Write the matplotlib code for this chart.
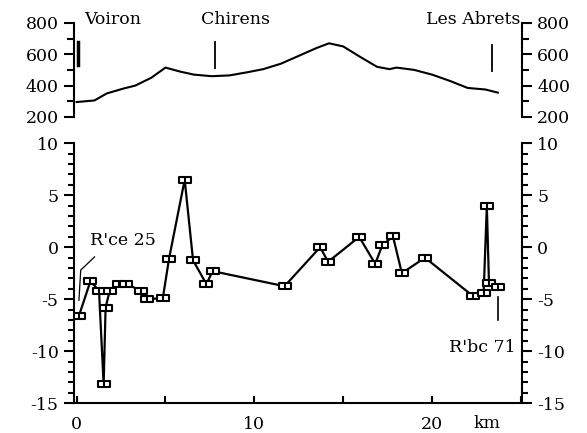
import matplotlib
matplotlib.use("Agg")
import matplotlib.pyplot as plt
from matplotlib.path import Path
from matplotlib.ticker import MultipleLocator

plt.rcParams['font.family'] = ['DejaVu Serif']
plt.rcParams['axes.unicode_minus'] = False

# elevation profile (km, m)
prof_km = [0, 1.0, 1.7, 2.6, 3.3, 4.2, 5.0, 5.8, 6.6, 7.6, 8.6, 9.6, 10.5, 11.5, 12.7, 13.5, 14.2, 15.0, 16.0, 16.9, 17.6, 18.0, 19.0, 20.0, 21.0, 22.0, 23.0, 23.7]
prof_m = [295, 305, 350, 380, 400, 450, 515, 490, 470, 460, 465, 485, 505, 540, 600, 640, 670, 650, 580, 520, 505, 515, 500, 470, 430, 385, 375, 355]

# measured values along the line
pts_km = [0.13, 0.78, 1.26, 1.52, 1.63, 1.86, 2.4, 2.75, 3.64, 3.95, 4.85, 5.2, 6.08, 6.55, 7.3, 7.65, 11.7, 13.7, 14.15, 15.9, 16.8, 17.2, 17.8, 18.3, 19.6, 22.3, 22.9, 23.08, 23.2, 23.7]
pts_val = [-6.6, -3.25, -4.2, -13.2, -5.8, -4.2, -3.5, -3.5, -4.2, -5.0, -4.9, -1.1, 6.5, -1.25, -3.55, -2.3, -3.75, 0.0, -1.4, 1.0, -1.6, 0.2, 1.05, -2.5, -1.0, -4.7, -4.4, 3.95, -3.4, -3.8]

elev_ticks = [200, 400, 600, 800]
val_ticks = [-15, -10, -5, 0, 5, 10]
km_ticks = [0, 10, 20]

towns = ['Voiron', 'Chirens', 'Les Abrets']

fig = plt.figure(figsize=(5.87, 4.33), dpi=100)
xlim = (-0.15, 25.05)

# ---- top panel: elevation
ax1 = fig.add_axes([0.126, 0.730, 0.763, 0.217])
ax1.plot(prof_km, prof_m, color='black', lw=1.5)
ax1.set_xlim(xlim)
ax1.set_ylim(200, 800)
for s in ['top', 'bottom']:
    ax1.spines[s].set_visible(False)
for s in ['left', 'right']:
    ax1.spines[s].set_linewidth(1.5)
ax1.set_xticks([])
ax1.set_yticks(elev_ticks)
ax1.set_yticklabels([str(t) for t in elev_ticks])
ax1.yaxis.set_minor_locator(MultipleLocator(100))
ax1.tick_params(axis='y', which='both', direction='out', left=True, right=True,
                labelleft=True, labelright=True, width=1.5, labelsize=12.5, pad=4)
ax1.tick_params(axis='y', which='major', length=7)
ax1.tick_params(axis='y', which='minor', length=5)

ax1.plot([0.05, 0.05], [532, 678], color='black', lw=2.5, clip_on=False)
ax1.plot([7.77, 7.77], [513, 678], color='black', lw=1.3)
ax1.plot([23.38, 23.38], [494, 660], color='black', lw=1.3)
ax1.text(0.45, 820, towns[0], fontsize=12.5, ha='left', va='center')
ax1.text(8.96, 820, towns[1], fontsize=12.5, ha='center', va='center')
ax1.text(24.95, 820, towns[2], fontsize=12.5, ha='right', va='center')

# ---- bottom panel: values
ax2 = fig.add_axes([0.126, 0.069, 0.763, 0.600])
v = [(-1, -0.55), (1, -0.55), (1, 0.55), (-1, 0.55), (-1, -0.55), (0, -0.55), (0, 0.55)]
c = [Path.MOVETO, Path.LINETO, Path.LINETO, Path.LINETO, Path.CLOSEPOLY, Path.MOVETO, Path.LINETO]
box = Path(v, c)
ax2.plot(pts_km, pts_val, color='black', lw=1.6, marker=box, markersize=8,
         markerfacecolor='white', markeredgecolor='black', markeredgewidth=1.5)
ax2.set_xlim(xlim)
ax2.set_ylim(-15, 10)
ax2.spines['top'].set_visible(False)
for s in ['left', 'right', 'bottom']:
    ax2.spines[s].set_linewidth(1.5)
ax2.set_yticks(val_ticks)
ax2.set_yticklabels([str(t) for t in val_ticks])
ax2.yaxis.set_minor_locator(MultipleLocator(1))
ax2.tick_params(axis='y', which='both', direction='out', left=True, right=True,
                labelleft=True, labelright=True, width=1.5, labelsize=12.5, pad=4)
ax2.tick_params(axis='y', which='major', length=7)
ax2.tick_params(axis='y', which='minor', length=4)
ax2.set_xticks(km_ticks)
ax2.set_xticklabels([str(t) for t in km_ticks])
ax2.xaxis.set_minor_locator(MultipleLocator(5))
ax2.tick_params(axis='x', which='both', direction='in', width=1.5, labelsize=12.5, pad=9)
ax2.tick_params(axis='x', which='major', length=5)
ax2.tick_params(axis='x', which='minor', length=5)
ax2.text(23.1, -17.0, 'km', fontsize=12.5, ha='center', va='center')

ax2.text(0.75, 0.65, "R'ce 25", fontsize=12.5, ha='left', va='center')
ax2.plot([1.01, 0.23, 0.13], [-0.93, -2.2, -5.1], color='black', lw=0.9)
ax2.plot([23.72, 23.72], [-4.8, -7.0], color='black', lw=1.2)
ax2.text(22.8, -9.6, "R'bc 71", fontsize=12.5, ha='center', va='center')

fig.savefig('out.png', dpi=100)
